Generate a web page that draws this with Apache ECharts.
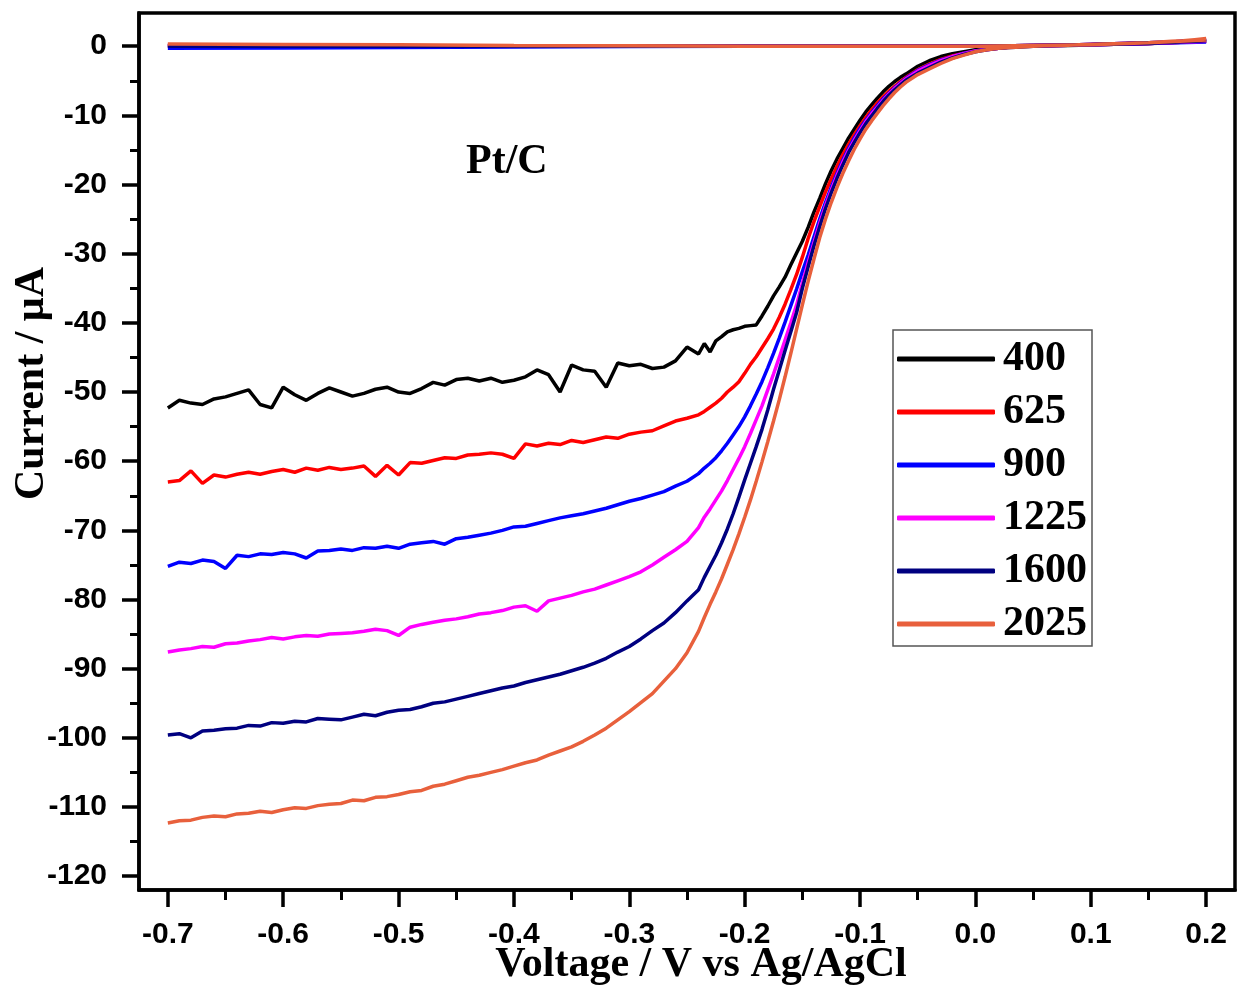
<!DOCTYPE html>
<html>
<head>
<meta charset="utf-8">
<script src="https://cdn.jsdelivr.net/npm/echarts@6/dist/echarts.min.js"></script>
<style>
html,body{margin:0;padding:0;background:#fff;}
#chart{width:1243px;height:992px;}
</style>
</head>
<body>
<div id="chart"></div>
<script>
// Forward (reduction) sweep voltages, V vs Ag/AgCl
const voltage = [
 -0.70,-0.69,-0.68,-0.67,-0.66,-0.65,-0.64,-0.63,-0.62,-0.61,
 -0.60,-0.59,-0.58,-0.57,-0.56,-0.55,-0.54,-0.53,-0.52,-0.51,
 -0.50,-0.49,-0.48,-0.47,-0.46,-0.45,-0.44,-0.43,-0.42,-0.41,
 -0.40,-0.39,-0.38,-0.37,-0.36,-0.35,-0.34,-0.33,-0.32,-0.31,
 -0.30,-0.29,-0.28,-0.27,-0.26,-0.25,-0.24,
 -0.235,-0.23,-0.225,-0.22,-0.215,-0.21,-0.205,-0.20,-0.195,-0.19,
 -0.185,-0.18,-0.175,-0.17,-0.165,-0.16,-0.155,-0.15,-0.145,-0.14,
 -0.135,-0.13,-0.125,-0.12,-0.115,-0.11,-0.105,-0.10,-0.095,-0.09,
 -0.085,-0.08,-0.075,-0.07,-0.065,-0.06,
 -0.05,-0.04,-0.03,-0.02,-0.01,0.00,0.01,0.02,0.03,0.04,
 0.05,0.06,0.07,0.08,0.09,0.10,0.11,0.12,0.13,0.14,
 0.15,0.16,0.17,0.18,0.19,0.20
];

const current400 = [
 -52.3,-51.2,-51.6,-51.8,-51.0,-50.7,-50.2,-49.7,-51.8,-52.3,
 -49.3,-50.4,-51.2,-50.2,-49.4,-50.0,-50.6,-50.2,-49.6,-49.3,
 -50.0,-50.2,-49.5,-48.6,-49.0,-48.2,-48.0,-48.4,-48.0,-48.6,
 -48.3,-47.8,-46.8,-47.5,-50.0,-46.1,-46.8,-47.0,-49.3,-45.8,
 -46.2,-46.0,-46.6,-46.4,-45.5,-43.5,-44.5,
 -43.0,-44.2,-42.6,-42.0,-41.3,-41.0,-40.8,-40.5,-40.4,-40.3,
 -39.0,-37.6,-36.1,-34.8,-33.4,-31.6,-29.9,-28.2,-26.2,-24.0,
 -22.0,-19.9,-18.0,-16.3,-14.8,-13.3,-12.0,-10.7,-9.5,-8.5,
 -7.5,-6.6,-5.8,-5.1,-4.5,-4.0,
 -2.9,-2.1,-1.5,-1.1,-0.8,-0.5,-0.3,-0.2,-0.1,0.0,
 0.0,0.05,0.1,0.1,0.15,0.2,0.25,0.3,0.35,0.4,
 0.45,0.5,0.55,0.6,0.7,0.8
];

const current625 = [
 -63.0,-62.8,-61.4,-63.2,-62.0,-62.3,-61.9,-61.6,-61.9,-61.5,
 -61.2,-61.6,-61.0,-61.3,-60.9,-61.2,-61.0,-60.7,-62.2,-60.6,
 -62.0,-60.2,-60.3,-59.9,-59.5,-59.6,-59.1,-59.0,-58.8,-59.0,
 -59.6,-57.5,-57.8,-57.4,-57.6,-57.0,-57.3,-56.9,-56.5,-56.7,
 -56.1,-55.8,-55.6,-54.9,-54.2,-53.8,-53.3,
 -52.8,-52.2,-51.6,-50.9,-50.0,-49.3,-48.5,-47.3,-46.0,-44.9,
 -43.6,-42.3,-40.9,-39.2,-37.3,-35.2,-33.0,-30.5,-27.8,-25.4,
 -23.2,-21.1,-19.2,-17.4,-15.7,-14.2,-12.8,-11.5,-10.3,-9.2,
 -8.2,-7.3,-6.5,-5.8,-5.1,-4.5,
 -3.4,-2.6,-1.9,-1.4,-1.0,-0.7,-0.4,-0.3,-0.1,0.0,
 0.0,0.05,0.1,0.15,0.2,0.25,0.3,0.35,0.4,0.45,
 0.5,0.55,0.6,0.7,0.8,0.9
];

const current900 = [
 -75.2,-74.6,-74.8,-74.3,-74.5,-75.5,-73.6,-73.8,-73.4,-73.5,
 -73.2,-73.4,-74.0,-73.0,-72.9,-72.7,-72.9,-72.5,-72.6,-72.3,
 -72.6,-72.0,-71.8,-71.6,-72.0,-71.2,-71.0,-70.7,-70.4,-70.0,
 -69.5,-69.4,-69.0,-68.6,-68.2,-67.9,-67.6,-67.2,-66.8,-66.3,
 -65.8,-65.4,-64.9,-64.4,-63.6,-62.9,-61.8,
 -61.0,-60.3,-59.5,-58.5,-57.4,-56.2,-55.0,-53.6,-52.0,-50.3,
 -48.5,-46.5,-44.4,-42.2,-39.9,-37.5,-35.1,-32.6,-30.2,-27.6,
 -25.0,-22.6,-20.4,-18.4,-16.5,-14.8,-13.3,-11.9,-10.7,-9.6,
 -8.6,-7.6,-6.8,-6.0,-5.3,-4.6,
 -3.5,-2.7,-2.0,-1.5,-1.0,-0.7,-0.4,-0.3,-0.1,0.0,
 0.0,0.05,0.1,0.15,0.2,0.25,0.3,0.35,0.4,0.45,
 0.5,0.55,0.6,0.65,0.7,0.75
];

const current1225 = [
 -87.6,-87.3,-87.1,-86.8,-86.9,-86.4,-86.3,-86.0,-85.8,-85.5,
 -85.7,-85.4,-85.2,-85.3,-85.0,-84.9,-84.8,-84.6,-84.3,-84.5,
 -85.2,-84.0,-83.6,-83.3,-83.0,-82.8,-82.5,-82.1,-81.9,-81.6,
 -81.1,-80.9,-81.7,-80.2,-79.8,-79.4,-78.9,-78.5,-77.9,-77.3,
 -76.7,-76.0,-75.0,-73.9,-72.8,-71.6,-69.6,
 -68.1,-66.9,-65.6,-64.3,-62.8,-61.2,-59.6,-57.9,-56.0,-54.0,
 -52.0,-49.7,-47.4,-45.0,-42.5,-40.0,-37.4,-34.3,-31.3,-28.4,
 -25.6,-23.1,-20.8,-18.7,-16.8,-15.1,-13.6,-12.2,-10.9,-9.8,
 -8.8,-7.8,-6.9,-6.1,-5.4,-4.7,
 -3.6,-2.8,-2.1,-1.5,-1.1,-0.7,-0.5,-0.3,-0.1,0.0,
 0.0,0.05,0.1,0.15,0.2,0.25,0.3,0.35,0.4,0.45,
 0.5,0.55,0.6,0.7,0.8,0.9
];

const current1600 = [
 -99.6,-99.4,-100.0,-99.0,-98.9,-98.7,-98.6,-98.2,-98.3,-97.8,
 -97.9,-97.6,-97.7,-97.2,-97.3,-97.4,-97.0,-96.6,-96.8,-96.3,
 -96.0,-95.9,-95.5,-95.0,-94.8,-94.4,-94.0,-93.6,-93.2,-92.8,
 -92.5,-92.0,-91.6,-91.2,-90.8,-90.3,-89.8,-89.2,-88.5,-87.6,
 -86.8,-85.7,-84.5,-83.4,-81.9,-80.2,-78.6,
 -76.8,-75.2,-73.6,-71.8,-69.8,-67.6,-65.2,-62.7,-60.3,-57.9,
 -55.4,-52.6,-49.6,-46.8,-44.0,-41.3,-38.5,-35.0,-31.9,-28.9,
 -26.1,-23.5,-21.2,-19.1,-17.2,-15.4,-13.9,-12.5,-11.2,-10.1,
 -9.0,-8.0,-7.1,-6.3,-5.6,-4.9,
 -3.9,-3.1,-2.3,-1.7,-1.2,-0.8,-0.5,-0.3,-0.2,-0.1,
 0.0,0.05,0.1,0.15,0.2,0.25,0.3,0.35,0.4,0.45,
 0.5,0.55,0.6,0.7,0.8,1.0
];

const current2025 = [
 -112.3,-112.0,-111.9,-111.5,-111.3,-111.4,-111.0,-110.9,-110.6,-110.8,
 -110.4,-110.1,-110.2,-109.8,-109.6,-109.5,-109.0,-109.1,-108.6,-108.5,
 -108.2,-107.8,-107.6,-107.0,-106.7,-106.2,-105.7,-105.4,-105.0,-104.6,
 -104.1,-103.6,-103.2,-102.5,-101.9,-101.3,-100.5,-99.6,-98.6,-97.4,
 -96.2,-94.9,-93.6,-91.8,-90.0,-87.7,-84.6,
 -82.6,-80.7,-78.9,-77.0,-74.9,-72.8,-70.5,-68.1,-65.6,-62.9,
 -60.1,-57.2,-54.2,-51.1,-47.8,-44.4,-40.9,-37.4,-34.0,-30.8,
 -27.7,-25.0,-22.6,-20.4,-18.4,-16.6,-14.9,-13.4,-12.0,-10.8,
 -9.7,-8.6,-7.6,-6.7,-5.9,-5.2,
 -4.1,-3.3,-2.5,-1.8,-1.3,-0.8,-0.5,-0.3,-0.2,-0.1,
 0.0,0.05,0.1,0.15,0.2,0.25,0.3,0.35,0.4,0.45,
 0.5,0.6,0.7,0.8,0.95,1.1
];

// Return (background) sweep near zero current
const returnVoltage = [-0.70,-0.60,-0.50,-0.40,-0.30,-0.20,-0.10,0.00,0.10,0.15,0.20];
const return400  = [0.1,0.1,0.05,0.0,0.0,0.0,0.0,0.0,0.2,0.4,0.7];
const return625  = [0.1,0.1,0.05,0.0,0.0,0.0,0.0,0.0,0.2,0.4,0.7];
const return900  = [-0.3,-0.25,-0.2,-0.1,-0.05,0.0,0.0,0.0,0.2,0.4,0.6];
const return1225 = [0.1,0.1,0.05,0.0,0.0,0.0,0.0,0.0,0.2,0.4,0.7];
const return1600 = [0.0,0.0,0.0,0.0,0.0,0.0,0.0,0.0,0.2,0.4,0.8];
const return2025 = [0.3,0.25,0.2,0.1,0.05,0.0,0.0,0.0,0.2,0.5,0.9];

const seriesNames  = ['400','625','900','1225','1600','2025'];
const seriesColors = ['#000000','#ff0000','#0000ff','#ff00ff','#000080','#e8603c'];
const forwardCurrents = [current400,current625,current900,current1225,current1600,current2025];
const returnCurrents  = [return400,return625,return900,return1225,return1600,return2025];

const xMajorTicks = [-0.7,-0.6,-0.5,-0.4,-0.3,-0.2,-0.1,0.0,0.1,0.2];
const xMinorTicks = [-0.65,-0.55,-0.45,-0.35,-0.25,-0.15,-0.05,0.05,0.15];
const yMajorTicks = [0,-10,-20,-30,-40,-50,-60,-70,-80,-90,-100,-110,-120];
const yMinorTicks = [-5,-15,-25,-35,-45,-55,-65,-75,-85,-95,-105,-115];

function buildData(cur, ret) {
  const d = voltage.map((v, i) => [v, cur[i]]);
  d.push(null);
  returnVoltage.forEach((v, i) => d.push([v, ret[i]]));
  return d;
}

const X_MIN = -0.725, X_MAX = 0.225, Y_MIN = -122, Y_MAX = 4.8;
const sansBold = {fontFamily: '"Liberation Sans", Arial, sans-serif', fontWeight: 'bold', color: '#000'};
const serifBold = {fontFamily: '"Liberation Serif", "Times New Roman", serif', fontWeight: 'bold', color: '#000'};

const chart = echarts.init(document.getElementById('chart'), null, {renderer: 'canvas'});
chart.setOption({
  animation: false,
  backgroundColor: '#fff',
  title: {
    text: 'Pt/C', left: 466, top: 141, padding: 0,
    textStyle: Object.assign({fontSize: 42}, serifBold)
  },
  grid: {
    left: 139, right: 8, top: 13, bottom: 102,
    containLabel: false, outerBoundsMode: 'none',
    show: true, borderColor: '#000', borderWidth: 3.5, backgroundColor: 'transparent'
  },
  legend: {
    orient: 'vertical', left: 893, top: 330,
    padding: [8, 5, 1, 4],
    itemWidth: 98, itemHeight: 5, itemGap: 11,
    icon: 'roundRect',
    borderColor: '#555', borderWidth: 1.5, backgroundColor: '#fff',
    textStyle: Object.assign({fontSize: 42, lineHeight: 42, padding: [0, 0, 0, 3]}, serifBold),
    data: seriesNames
  },
  xAxis: [
    {
      type: 'value', min: X_MIN, max: X_MAX, position: 'bottom',
      axisLine: {show: true, onZero: false, lineStyle: {color: '#000', width: 3.5}},
      axisTick: {show: true, inside: false, length: 17, customValues: xMajorTicks, lineStyle: {color: '#000', width: 3.5}},
      axisLabel: Object.assign({customValues: xMajorTicks, fontSize: 30, margin: 30, formatter: v => v.toFixed(1)}, sansBold),
      splitLine: {show: false},
      name: 'Voltage / V vs Ag/AgCl', nameLocation: 'middle', nameGap: 54, nameMoveOverlap: false,
      nameTextStyle: Object.assign({fontSize: 42, padding: [0, 0, 0, 28]}, serifBold)
    },
    {
      type: 'value', min: X_MIN, max: X_MAX, position: 'bottom',
      axisLine: {show: false, onZero: false},
      axisTick: {show: true, inside: false, length: 10, customValues: xMinorTicks, lineStyle: {color: '#000', width: 3}},
      axisLabel: {show: false},
      splitLine: {show: false}
    }
  ],
  yAxis: [
    {
      type: 'value', min: Y_MIN, max: Y_MAX, position: 'left',
      axisLine: {show: true, onZero: false, lineStyle: {color: '#000', width: 3.5}},
      axisTick: {show: true, inside: false, length: 17, customValues: yMajorTicks, lineStyle: {color: '#000', width: 3.5}},
      axisLabel: Object.assign({customValues: yMajorTicks, fontSize: 30, margin: 32}, sansBold),
      splitLine: {show: false},
      name: 'Current / μA', nameLocation: 'middle', nameGap: 86, nameRotate: 90, nameMoveOverlap: false,
      nameTextStyle: Object.assign({fontSize: 42, padding: [0, 0, 0, 136]}, serifBold)
    },
    {
      type: 'value', min: Y_MIN, max: Y_MAX, position: 'left',
      axisLine: {show: false, onZero: false},
      axisTick: {show: true, inside: false, length: 9, customValues: yMinorTicks, lineStyle: {color: '#000', width: 3}},
      axisLabel: {show: false},
      splitLine: {show: false}
    }
  ],
  series: seriesNames.map((name, k) => ({
    name: name,
    type: 'line',
    xAxisIndex: 0, yAxisIndex: 0,
    symbol: 'none', showSymbol: false,
    connectNulls: false,
    silent: true,
    lineStyle: {color: seriesColors[k], width: 3.5},
    itemStyle: {color: seriesColors[k]},
    data: buildData(forwardCurrents[k], returnCurrents[k]),
    z: 2 + k
  }))
});
</script>
</body>
</html>
